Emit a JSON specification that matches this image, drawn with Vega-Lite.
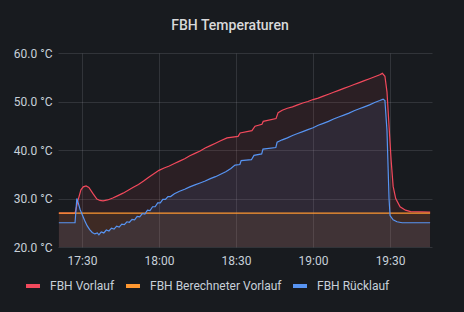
{
  "$schema": "https://vega.github.io/schema/vega-lite/v6.json",
  "width": 374,
  "height": 194,
  "autosize": {"type": "none"},
  "padding": {"left": 58, "top": 53, "right": 32, "bottom": 65},
  "background": "#181b1f",
  "title": {
    "text": "FBH Temperaturen",
    "color": "#d8d9da",
    "font": "Roboto",
    "fontSize": 14,
    "fontWeight": 500,
    "anchor": "middle",
    "dx": -15,
    "offset": 14
  },
  "config": {
    "view": {"stroke": null},
    "axis": {
      "labelColor": "#c7d0d9",
      "labelFont": "Roboto",
      "labelFontSize": 12,
      "ticks": false,
      "domain": false,
      "gridColor": "#ccccdc",
      "gridOpacity": 0.14,
      "title": null
    },
    "legend": {
      "labelColor": "#c7d0d9",
      "labelFont": "Roboto",
      "labelFontSize": 12
    }
  },
  "data": {
    "format": {"parse": {"time": "utc:'%Y-%m-%dT%H:%M:%S'"}},
    "values": [
      {"time": "2021-03-01T17:21:00", "series": "FBH Vorlauf", "temp": 27.0},
      {"time": "2021-03-01T17:27:18", "series": "FBH Vorlauf", "temp": 27.0},
      {"time": "2021-03-01T17:28:24", "series": "FBH Vorlauf", "temp": 29.5},
      {"time": "2021-03-01T17:29:36", "series": "FBH Vorlauf", "temp": 31.8},
      {"time": "2021-03-01T17:30:30", "series": "FBH Vorlauf", "temp": 32.4},
      {"time": "2021-03-01T17:31:36", "series": "FBH Vorlauf", "temp": 32.6},
      {"time": "2021-03-01T17:32:42", "series": "FBH Vorlauf", "temp": 32.3},
      {"time": "2021-03-01T17:34:18", "series": "FBH Vorlauf", "temp": 31.0},
      {"time": "2021-03-01T17:35:48", "series": "FBH Vorlauf", "temp": 29.9},
      {"time": "2021-03-01T17:37:00", "series": "FBH Vorlauf", "temp": 29.6},
      {"time": "2021-03-01T17:38:12", "series": "FBH Vorlauf", "temp": 29.5},
      {"time": "2021-03-01T17:40:00", "series": "FBH Vorlauf", "temp": 29.7},
      {"time": "2021-03-01T17:42:00", "series": "FBH Vorlauf", "temp": 30.1},
      {"time": "2021-03-01T17:44:00", "series": "FBH Vorlauf", "temp": 30.6},
      {"time": "2021-03-01T17:46:00", "series": "FBH Vorlauf", "temp": 31.1},
      {"time": "2021-03-01T17:48:00", "series": "FBH Vorlauf", "temp": 31.7},
      {"time": "2021-03-01T17:50:00", "series": "FBH Vorlauf", "temp": 32.3},
      {"time": "2021-03-01T17:52:00", "series": "FBH Vorlauf", "temp": 32.9},
      {"time": "2021-03-01T17:54:00", "series": "FBH Vorlauf", "temp": 33.6},
      {"time": "2021-03-01T17:56:00", "series": "FBH Vorlauf", "temp": 34.4},
      {"time": "2021-03-01T17:58:00", "series": "FBH Vorlauf", "temp": 35.1},
      {"time": "2021-03-01T18:00:00", "series": "FBH Vorlauf", "temp": 35.8},
      {"time": "2021-03-01T18:02:00", "series": "FBH Vorlauf", "temp": 36.3},
      {"time": "2021-03-01T18:04:00", "series": "FBH Vorlauf", "temp": 36.7},
      {"time": "2021-03-01T18:06:00", "series": "FBH Vorlauf", "temp": 37.2},
      {"time": "2021-03-01T18:08:00", "series": "FBH Vorlauf", "temp": 37.7},
      {"time": "2021-03-01T18:10:00", "series": "FBH Vorlauf", "temp": 38.2},
      {"time": "2021-03-01T18:12:00", "series": "FBH Vorlauf", "temp": 38.8},
      {"time": "2021-03-01T18:14:00", "series": "FBH Vorlauf", "temp": 39.3},
      {"time": "2021-03-01T18:16:00", "series": "FBH Vorlauf", "temp": 39.8},
      {"time": "2021-03-01T18:18:00", "series": "FBH Vorlauf", "temp": 40.4},
      {"time": "2021-03-01T18:20:00", "series": "FBH Vorlauf", "temp": 40.9},
      {"time": "2021-03-01T18:22:00", "series": "FBH Vorlauf", "temp": 41.4},
      {"time": "2021-03-01T18:24:00", "series": "FBH Vorlauf", "temp": 41.9},
      {"time": "2021-03-01T18:26:30", "series": "FBH Vorlauf", "temp": 42.5},
      {"time": "2021-03-01T18:30:48", "series": "FBH Vorlauf", "temp": 42.8},
      {"time": "2021-03-01T18:31:36", "series": "FBH Vorlauf", "temp": 43.5},
      {"time": "2021-03-01T18:36:12", "series": "FBH Vorlauf", "temp": 44.0},
      {"time": "2021-03-01T18:37:24", "series": "FBH Vorlauf", "temp": 44.9},
      {"time": "2021-03-01T18:40:06", "series": "FBH Vorlauf", "temp": 45.3},
      {"time": "2021-03-01T18:40:36", "series": "FBH Vorlauf", "temp": 45.9},
      {"time": "2021-03-01T18:45:36", "series": "FBH Vorlauf", "temp": 46.5},
      {"time": "2021-03-01T18:46:24", "series": "FBH Vorlauf", "temp": 47.7},
      {"time": "2021-03-01T18:48:00", "series": "FBH Vorlauf", "temp": 48.2},
      {"time": "2021-03-01T18:50:00", "series": "FBH Vorlauf", "temp": 48.6},
      {"time": "2021-03-01T18:52:00", "series": "FBH Vorlauf", "temp": 48.9},
      {"time": "2021-03-01T18:54:00", "series": "FBH Vorlauf", "temp": 49.3},
      {"time": "2021-03-01T18:56:00", "series": "FBH Vorlauf", "temp": 49.7},
      {"time": "2021-03-01T18:58:00", "series": "FBH Vorlauf", "temp": 50.0},
      {"time": "2021-03-01T19:00:00", "series": "FBH Vorlauf", "temp": 50.4},
      {"time": "2021-03-01T19:02:00", "series": "FBH Vorlauf", "temp": 50.7},
      {"time": "2021-03-01T19:04:00", "series": "FBH Vorlauf", "temp": 51.1},
      {"time": "2021-03-01T19:06:00", "series": "FBH Vorlauf", "temp": 51.5},
      {"time": "2021-03-01T19:08:00", "series": "FBH Vorlauf", "temp": 51.9},
      {"time": "2021-03-01T19:10:00", "series": "FBH Vorlauf", "temp": 52.3},
      {"time": "2021-03-01T19:12:00", "series": "FBH Vorlauf", "temp": 52.7},
      {"time": "2021-03-01T19:14:00", "series": "FBH Vorlauf", "temp": 53.1},
      {"time": "2021-03-01T19:16:00", "series": "FBH Vorlauf", "temp": 53.5},
      {"time": "2021-03-01T19:18:00", "series": "FBH Vorlauf", "temp": 53.9},
      {"time": "2021-03-01T19:20:00", "series": "FBH Vorlauf", "temp": 54.3},
      {"time": "2021-03-01T19:22:00", "series": "FBH Vorlauf", "temp": 54.7},
      {"time": "2021-03-01T19:24:00", "series": "FBH Vorlauf", "temp": 55.1},
      {"time": "2021-03-01T19:26:00", "series": "FBH Vorlauf", "temp": 55.5},
      {"time": "2021-03-01T19:27:00", "series": "FBH Vorlauf", "temp": 55.8},
      {"time": "2021-03-01T19:28:00", "series": "FBH Vorlauf", "temp": 55.2},
      {"time": "2021-03-01T19:28:48", "series": "FBH Vorlauf", "temp": 52.0},
      {"time": "2021-03-01T19:29:36", "series": "FBH Vorlauf", "temp": 45.0},
      {"time": "2021-03-01T19:30:24", "series": "FBH Vorlauf", "temp": 38.0},
      {"time": "2021-03-01T19:31:12", "series": "FBH Vorlauf", "temp": 32.5},
      {"time": "2021-03-01T19:32:12", "series": "FBH Vorlauf", "temp": 30.0},
      {"time": "2021-03-01T19:33:54", "series": "FBH Vorlauf", "temp": 28.3},
      {"time": "2021-03-01T19:36:00", "series": "FBH Vorlauf", "temp": 27.6},
      {"time": "2021-03-01T19:38:00", "series": "FBH Vorlauf", "temp": 27.3},
      {"time": "2021-03-01T19:45:36", "series": "FBH Vorlauf", "temp": 27.2},
      {"time": "2021-03-01T17:21:00", "series": "FBH Berechneter Vorlauf", "temp": 27.0},
      {"time": "2021-03-01T18:30:00", "series": "FBH Berechneter Vorlauf", "temp": 27.0},
      {"time": "2021-03-01T19:45:36", "series": "FBH Berechneter Vorlauf", "temp": 27.0},
      {"time": "2021-03-01T17:21:00", "series": "FBH Rücklauf", "temp": 25.0},
      {"time": "2021-03-01T17:27:18", "series": "FBH Rücklauf", "temp": 25.0},
      {"time": "2021-03-01T17:28:00", "series": "FBH Rücklauf", "temp": 30.0},
      {"time": "2021-03-01T17:28:36", "series": "FBH Rücklauf", "temp": 29.0},
      {"time": "2021-03-01T17:29:18", "series": "FBH Rücklauf", "temp": 27.7},
      {"time": "2021-03-01T17:30:00", "series": "FBH Rücklauf", "temp": 26.8},
      {"time": "2021-03-01T17:31:00", "series": "FBH Rücklauf", "temp": 25.5},
      {"time": "2021-03-01T17:32:00", "series": "FBH Rücklauf", "temp": 24.4},
      {"time": "2021-03-01T17:33:00", "series": "FBH Rücklauf", "temp": 23.6},
      {"time": "2021-03-01T17:34:00", "series": "FBH Rücklauf", "temp": 23.0},
      {"time": "2021-03-01T17:35:00", "series": "FBH Rücklauf", "temp": 22.7},
      {"time": "2021-03-01T17:36:00", "series": "FBH Rücklauf", "temp": 22.9},
      {"time": "2021-03-01T17:36:36", "series": "FBH Rücklauf", "temp": 22.5},
      {"time": "2021-03-01T17:37:30", "series": "FBH Rücklauf", "temp": 23.1},
      {"time": "2021-03-01T17:38:30", "series": "FBH Rücklauf", "temp": 22.9},
      {"time": "2021-03-01T17:39:30", "series": "FBH Rücklauf", "temp": 23.5},
      {"time": "2021-03-01T17:40:30", "series": "FBH Rücklauf", "temp": 23.3},
      {"time": "2021-03-01T17:41:30", "series": "FBH Rücklauf", "temp": 23.9},
      {"time": "2021-03-01T17:42:30", "series": "FBH Rücklauf", "temp": 23.7},
      {"time": "2021-03-01T17:43:30", "series": "FBH Rücklauf", "temp": 24.3},
      {"time": "2021-03-01T17:44:30", "series": "FBH Rücklauf", "temp": 24.1},
      {"time": "2021-03-01T17:45:30", "series": "FBH Rücklauf", "temp": 24.7},
      {"time": "2021-03-01T17:46:30", "series": "FBH Rücklauf", "temp": 24.6},
      {"time": "2021-03-01T17:47:30", "series": "FBH Rücklauf", "temp": 25.2},
      {"time": "2021-03-01T17:48:30", "series": "FBH Rücklauf", "temp": 25.1},
      {"time": "2021-03-01T17:49:30", "series": "FBH Rücklauf", "temp": 25.7},
      {"time": "2021-03-01T17:50:30", "series": "FBH Rücklauf", "temp": 25.6},
      {"time": "2021-03-01T17:51:30", "series": "FBH Rücklauf", "temp": 26.3},
      {"time": "2021-03-01T17:52:30", "series": "FBH Rücklauf", "temp": 26.2},
      {"time": "2021-03-01T17:53:30", "series": "FBH Rücklauf", "temp": 26.9},
      {"time": "2021-03-01T17:54:30", "series": "FBH Rücklauf", "temp": 26.8},
      {"time": "2021-03-01T17:55:30", "series": "FBH Rücklauf", "temp": 27.6},
      {"time": "2021-03-01T17:56:30", "series": "FBH Rücklauf", "temp": 27.5},
      {"time": "2021-03-01T17:57:30", "series": "FBH Rücklauf", "temp": 28.3},
      {"time": "2021-03-01T17:58:30", "series": "FBH Rücklauf", "temp": 28.3},
      {"time": "2021-03-01T17:59:30", "series": "FBH Rücklauf", "temp": 29.1},
      {"time": "2021-03-01T18:00:30", "series": "FBH Rücklauf", "temp": 29.1},
      {"time": "2021-03-01T18:01:30", "series": "FBH Rücklauf", "temp": 29.8},
      {"time": "2021-03-01T18:02:30", "series": "FBH Rücklauf", "temp": 29.8},
      {"time": "2021-03-01T18:03:30", "series": "FBH Rücklauf", "temp": 30.4},
      {"time": "2021-03-01T18:04:30", "series": "FBH Rücklauf", "temp": 30.4},
      {"time": "2021-03-01T18:06:00", "series": "FBH Rücklauf", "temp": 31.0},
      {"time": "2021-03-01T18:08:00", "series": "FBH Rücklauf", "temp": 31.5},
      {"time": "2021-03-01T18:10:00", "series": "FBH Rücklauf", "temp": 31.9},
      {"time": "2021-03-01T18:12:00", "series": "FBH Rücklauf", "temp": 32.4},
      {"time": "2021-03-01T18:14:00", "series": "FBH Rücklauf", "temp": 32.8},
      {"time": "2021-03-01T18:16:00", "series": "FBH Rücklauf", "temp": 33.2},
      {"time": "2021-03-01T18:18:00", "series": "FBH Rücklauf", "temp": 33.6},
      {"time": "2021-03-01T18:20:00", "series": "FBH Rücklauf", "temp": 34.1},
      {"time": "2021-03-01T18:22:00", "series": "FBH Rücklauf", "temp": 34.5},
      {"time": "2021-03-01T18:24:00", "series": "FBH Rücklauf", "temp": 35.0},
      {"time": "2021-03-01T18:26:00", "series": "FBH Rücklauf", "temp": 35.5},
      {"time": "2021-03-01T18:28:00", "series": "FBH Rücklauf", "temp": 36.2},
      {"time": "2021-03-01T18:29:36", "series": "FBH Rücklauf", "temp": 36.9},
      {"time": "2021-03-01T18:31:30", "series": "FBH Rücklauf", "temp": 37.0},
      {"time": "2021-03-01T18:32:00", "series": "FBH Rücklauf", "temp": 37.8},
      {"time": "2021-03-01T18:36:00", "series": "FBH Rücklauf", "temp": 38.0},
      {"time": "2021-03-01T18:37:00", "series": "FBH Rücklauf", "temp": 38.9},
      {"time": "2021-03-01T18:40:00", "series": "FBH Rücklauf", "temp": 39.2},
      {"time": "2021-03-01T18:40:30", "series": "FBH Rücklauf", "temp": 40.2},
      {"time": "2021-03-01T18:45:30", "series": "FBH Rücklauf", "temp": 40.5},
      {"time": "2021-03-01T18:46:00", "series": "FBH Rücklauf", "temp": 41.6},
      {"time": "2021-03-01T18:48:00", "series": "FBH Rücklauf", "temp": 42.1},
      {"time": "2021-03-01T18:50:00", "series": "FBH Rücklauf", "temp": 42.5},
      {"time": "2021-03-01T18:52:00", "series": "FBH Rücklauf", "temp": 43.0},
      {"time": "2021-03-01T18:54:00", "series": "FBH Rücklauf", "temp": 43.4},
      {"time": "2021-03-01T18:56:00", "series": "FBH Rücklauf", "temp": 43.8},
      {"time": "2021-03-01T18:58:00", "series": "FBH Rücklauf", "temp": 44.2},
      {"time": "2021-03-01T19:00:00", "series": "FBH Rücklauf", "temp": 44.6},
      {"time": "2021-03-01T19:02:00", "series": "FBH Rücklauf", "temp": 45.1},
      {"time": "2021-03-01T19:04:00", "series": "FBH Rücklauf", "temp": 45.5},
      {"time": "2021-03-01T19:06:00", "series": "FBH Rücklauf", "temp": 45.9},
      {"time": "2021-03-01T19:08:00", "series": "FBH Rücklauf", "temp": 46.4},
      {"time": "2021-03-01T19:10:00", "series": "FBH Rücklauf", "temp": 46.8},
      {"time": "2021-03-01T19:12:00", "series": "FBH Rücklauf", "temp": 47.2},
      {"time": "2021-03-01T19:14:00", "series": "FBH Rücklauf", "temp": 47.6},
      {"time": "2021-03-01T19:16:00", "series": "FBH Rücklauf", "temp": 48.1},
      {"time": "2021-03-01T19:18:00", "series": "FBH Rücklauf", "temp": 48.5},
      {"time": "2021-03-01T19:20:00", "series": "FBH Rücklauf", "temp": 48.9},
      {"time": "2021-03-01T19:22:00", "series": "FBH Rücklauf", "temp": 49.3},
      {"time": "2021-03-01T19:24:00", "series": "FBH Rücklauf", "temp": 49.8},
      {"time": "2021-03-01T19:26:00", "series": "FBH Rücklauf", "temp": 50.2},
      {"time": "2021-03-01T19:27:18", "series": "FBH Rücklauf", "temp": 50.5},
      {"time": "2021-03-01T19:28:00", "series": "FBH Rücklauf", "temp": 50.2},
      {"time": "2021-03-01T19:28:48", "series": "FBH Rücklauf", "temp": 44.0},
      {"time": "2021-03-01T19:29:36", "series": "FBH Rücklauf", "temp": 30.0},
      {"time": "2021-03-01T19:30:00", "series": "FBH Rücklauf", "temp": 26.5},
      {"time": "2021-03-01T19:31:12", "series": "FBH Rücklauf", "temp": 25.6},
      {"time": "2021-03-01T19:32:42", "series": "FBH Rücklauf", "temp": 25.2},
      {"time": "2021-03-01T19:34:42", "series": "FBH Rücklauf", "temp": 25.0},
      {"time": "2021-03-01T19:45:36", "series": "FBH Rücklauf", "temp": 25.0}
    ]
  },
  "encoding": {
    "x": {
      "field": "time",
      "type": "temporal",
      "scale": {
        "type": "utc",
        "domain": [1614619240000, 1614627980000]
      },
      "axis": {
        "format": "%H:%M",
        "values": [1614619800000, 1614621600000, 1614623400000, 1614625200000, 1614627000000],
        "labelPadding": 8,
        "labelFlush": false
      }
    },
    "y": {
      "field": "temp",
      "type": "quantitative",
      "scale": {"domain": [20, 60], "nice": false, "zero": false},
      "axis": {
        "values": [20, 30, 40, 50, 60],
        "labelExpr": "format(datum.value, '.1f') + ' °C'",
        "labelPadding": 6
      }
    },
    "color": {
      "field": "series",
      "type": "nominal",
      "sort": null,
      "scale": {
        "domain": ["FBH Vorlauf", "FBH Berechneter Vorlauf", "FBH Rücklauf"],
        "range": ["#F2495C", "#FF9830", "#5794F2"]
      },
      "legend": {
        "title": null,
        "orient": "none",
        "direction": "horizontal",
        "legendX": -34,
        "legendY": 224,
        "symbolType": "stroke",
        "symbolSize": 196,
        "symbolStrokeWidth": 4,
        "symbolOpacity": 1,
        "labelOffset": 8,
        "columnPadding": 3,
        "encode": {
          "symbols": {
            "update": {
              "stroke": {"scale": "color", "field": "value"},
              "strokeWidth": {"value": 4},
              "opacity": {"value": 1}
            }
          }
        }
      }
    }
  },
  "layer": [
    {
      "mark": {"type": "area", "fillOpacity": 0.09, "interpolate": "linear"},
      "encoding": {
        "y2": {"datum": 20}
      }
    },
    {
      "mark": {"type": "line", "strokeWidth": 1.2, "interpolate": "linear"}
    }
  ]
}
